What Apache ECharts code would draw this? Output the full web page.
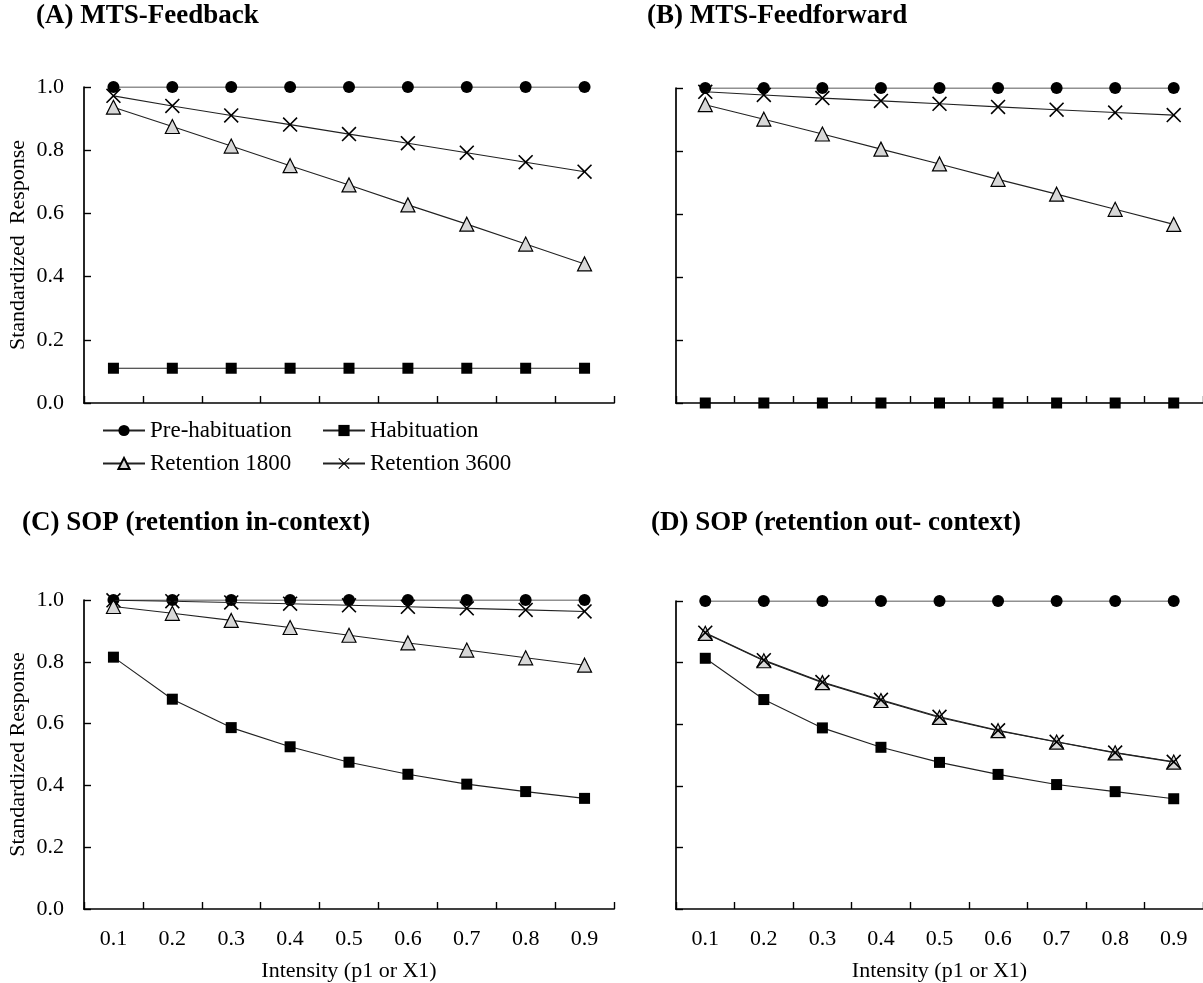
<!DOCTYPE html>
<html><head><meta charset="utf-8">
<script src="https://cdn.jsdelivr.net/npm/echarts@6/dist/echarts.min.js"></script>
<style>html,body{margin:0;padding:0;background:#fff}#c{width:1203px;height:983px}</style>
</head><body><div id="c"></div>
<script>
// ---------- data ----------
const categories = ['0.1','0.2','0.3','0.4','0.5','0.6','0.7','0.8','0.9'];
const seriesNames = ['Pre-habituation','Habituation','Retention 1800','Retention 3600'];
const panelTitles = ['(A) MTS-Feedback','(B) MTS-Feedforward','(C) SOP (retention in-context)','(D) SOP (retention out- context)'];
const yAxisNames = ['Standardized  Response', '', 'Standardized Response', ''];
const xAxisName = 'Intensity (p1 or X1)';

// Panel A: MTS-Feedback
const aPre   = [1.0,1.0,1.0,1.0,1.0,1.0,1.0,1.0,1.0];
const aHab   = [0.11,0.11,0.11,0.11,0.11,0.11,0.11,0.11,0.11];
const aR1800 = [0.936,0.875,0.813,0.751,0.690,0.627,0.566,0.503,0.440];
const aR3600 = [0.972,0.940,0.910,0.881,0.851,0.822,0.792,0.762,0.732];
// Panel B: MTS-Feedforward
const bPre   = [1.0,1.0,1.0,1.0,1.0,1.0,1.0,1.0,1.0];
const bHab   = [0.0,0.0,0.0,0.0,0.0,0.0,0.0,0.0,0.0];
const bR1800 = [0.947,0.901,0.854,0.806,0.759,0.710,0.663,0.615,0.567];
const bR3600 = [0.988,0.978,0.968,0.959,0.950,0.940,0.931,0.922,0.914];
// Panel C: SOP (retention in-context)
const cPre   = [1.0,1.0,1.0,1.0,1.0,1.0,1.0,1.0,1.0];
const cHab   = [0.815,0.679,0.587,0.525,0.475,0.436,0.404,0.380,0.358];
const cR1800 = [0.979,0.957,0.934,0.911,0.886,0.861,0.838,0.813,0.789];
const cR3600 = [0.999,0.996,0.992,0.988,0.983,0.978,0.973,0.968,0.963];
// Panel D: SOP (retention out- context)
const dPre   = [1.0,1.0,1.0,1.0,1.0,1.0,1.0,1.0,1.0];
const dHab   = [0.814,0.680,0.588,0.525,0.476,0.437,0.404,0.381,0.358];
const dR1800 = [0.895,0.806,0.735,0.677,0.622,0.579,0.542,0.507,0.477];
const dR3600 = [0.897,0.808,0.737,0.679,0.624,0.580,0.543,0.508,0.478];

const panelData = [
  [aPre,aHab,aR1800,aR3600],
  [bPre,bHab,bR1800,bR3600],
  [cPre,cHab,cR1800,cR3600],
  [dPre,dHab,dR1800,dR3600]
];

// ---------- style ----------
const FONT = '"Liberation Serif","Times New Roman",serif';
const crossPath = 'path://M0,1.2L1.2,0L8,6.8L14.8,0L16,1.2L9.2,8L16,14.8L14.8,16L8,9.2L1.2,16L0,14.8L6.8,8Z';
const seriesStyle = [
  {symbol:'circle', symbolSize:12, itemStyle:{color:'#000', borderColor:'#000', borderWidth:0}},
  {symbol:'rect', symbolSize:11, itemStyle:{color:'#000', borderColor:'#000', borderWidth:0}},
  {symbol:'triangle', symbolSize:14, itemStyle:{color:'#d8d8d8', borderColor:'#000', borderWidth:1.2}},
  {symbol:crossPath, symbolSize:15, itemStyle:{color:'#000', borderWidth:0}}
];

const grids = [
  {left:84, top:87, width:530, height:316},
  {left:676, top:88, width:529, height:315},
  {left:84, top:600, width:530, height:314},
  {left:676, top:601, width:529, height:315}
];
const titlePos = [
  {left:36, top:3},
  {left:647, top:3},
  {left:22, top:510},
  {left:651, top:510}
];

const axisLineStyle = {color:'#000', width:1.7};
const xAxes = grids.map((g,i)=>({
  type:'category', gridIndex:i, data:categories, boundaryGap:true,
  axisLine:{lineStyle:axisLineStyle},
  axisTick:{show:true, inside:true, length:7, lineStyle:{color:'#000', width:1.4}},
  axisLabel:{show:i>=2, color:'#000', fontFamily:FONT, fontSize:22, margin:19},
  name: i>=2 ? xAxisName : '', nameLocation:'middle', nameGap:51,
  nameTextStyle:{color:'#000', fontFamily:FONT, fontSize:22},
  splitLine:{show:false}
}));
const yAxes = grids.map((g,i)=>({
  type:'value', gridIndex:i, min:0, max:1, interval:0.2,
  axisLine:{show:true, lineStyle:axisLineStyle},
  axisTick:{show:true, inside:true, length:7, lineStyle:{color:'#000', width:1.4}},
  axisLabel:{show:(i%2===0), color:'#000', fontFamily:FONT, fontSize:22, margin:20,
    formatter:v=>v.toFixed(1)},
  name: yAxisNames[i], nameLocation:'middle', nameGap:55,
  nameTextStyle:{color:'#000', fontFamily:FONT, fontSize:22},
  splitLine:{show:false}
}));

const series = [];
panelData.forEach((arrs,pi)=>{
  arrs.forEach((vals,si)=>{
    series.push(Object.assign({
      type:'line', name:seriesNames[si], xAxisIndex:pi, yAxisIndex:pi,
      data:vals, showSymbol:true, showAllSymbol:true, animation:false,
      lineStyle:{color:'#222', width:1.1},
      z: 2+si
    }, seriesStyle[si]));
  });
});

const legendBase = {
  orient:'horizontal', itemWidth:42, itemHeight:14, padding:0, itemGap:0,
  selectedMode:false,
  textStyle:{color:'#000', fontFamily:FONT, fontSize:23, padding:[0,0,0,0]}
};
const legends = [
  Object.assign({}, legendBase, {data:[seriesNames[0]], left:102, top:419}),
  Object.assign({}, legendBase, {data:[seriesNames[1]], left:322, top:419}),
  Object.assign({}, legendBase, {data:[seriesNames[2]], left:102, top:452}),
  Object.assign({}, legendBase, {data:[seriesNames[3]], left:322, top:452})
];

const option = {
  backgroundColor:'#fff',
  animation:false,
  title: panelTitles.map((t,i)=>({
    text:t, left:titlePos[i].left, top:titlePos[i].top, padding:0,
    textStyle:{color:'#000', fontFamily:FONT, fontWeight:'bold', fontSize:27}
  })),
  grid: grids,
  xAxis: xAxes,
  yAxis: yAxes,
  legend: legends,
  series: series
};

const chart = echarts.init(document.getElementById('c'), null, {renderer:'canvas'});
chart.setOption(option);
</script>
</body></html>
